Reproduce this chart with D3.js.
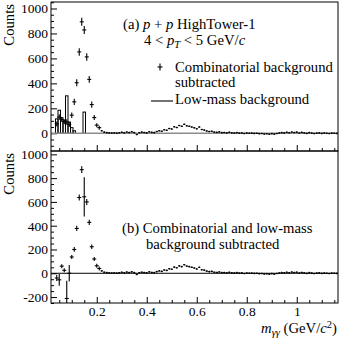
<!DOCTYPE html>
<html>
<head>
<meta charset="utf-8">
<script src="https://cdn.jsdelivr.net/npm/d3@7"></script>
<style>
  body { margin: 0; background: #fff; }
  text { font-family: "Liberation Serif", serif; fill: #000; }
</style>
</head>
<body>
<div id="chart"></div>
<script>
// bins of 0.01 GeV/c^2, first centre at 0.04
const binStart = 0.04;
const binWidth = 0.01;

// panel (a): combinatorial background subtracted, 0.04 .. 0.21
const peakA = [75, 130, 110, 92, 90, 70, 145, 252, 405, 652, 893, 828, 612, 432, 230, 126, 65, 45];
const peakErrA = [20, 22, 20, 20, 22, 20, 22, 25, 28, 30, 32, 32, 30, 28, 25, 20, 15, 12];

// panel (b): combinatorial and low-mass subtracted, 0.04 .. 0.21
const peakB = [-40, -55, 60, 25, -212, 0, 137, 200, 377, 637, 871, 643, 600, 428, 223, 120, 63, 40];
const peakErrB = [25, 50, 12, 15, 150, 70, 15, 20, 22, 25, 28, 165, 25, 22, 18, 15, 12, 10];

// 0.22 .. 1.16, same in both panels
const tail = [20, 9, 5, 3, 2, 3, 1, 4, 8, 3, 10, 6, 12, 5, -10, 4, 9, 6, 3, 12,
  7, 5, 14, 20, 16, 28, 24, 38, 34, 52, 46, 62, 56, 72, 60, 56, 50, 44, 36, 50,
  30, 26, 18, 14, 16, 9, 7, 11, 5, 6, 3, 8, 4, 2, 5, 1, 3, -2, 2, 0,
  1, -1, 0, -3, -2, -6, -4, -8, -3, -7, -2, 2, 5, 3, 8, 4, 10, 6, 9, 2,
  7, 3, -1, 5, 2, -2, 1, 3, -1, 2, 0, -2, 1, 0, -1];
const tailErr = 5;

// low-mass background histogram, 0.04 .. 0.15
const lowMass = [115, 185, 125, 100, 300, 90, 45, 20, 0, 0, 0, 170];

const yTicksA = [0, 200, 400, 600, 800, 1000];
const yTicksB = [-200, 0, 200, 400, 600, 800, 1000];
const xTicks = [0.2, 0.4, 0.6, 0.8, 1];

const seriesA = peakA.concat(tail).map((v, i) => ({
  m: binStart + i * binWidth, v: v, e: i < peakErrA.length ? peakErrA[i] : tailErr, big: i < peakErrA.length }));
const seriesB = peakB.concat(tail).map((v, i) => ({
  m: binStart + i * binWidth, v: v, e: i < peakErrB.length ? peakErrB[i] : tailErr, big: i < peakErrB.length }));
const lowMassBins = lowMass.map((v, i) => ({ m: binStart + i * binWidth, v: v }));

const svgWidth = 341, svgHeight = 339;
const left = 51, right = 338;

const svg = d3.select("#chart").append("svg")
  .attr("width", svgWidth)
  .attr("height", svgHeight);

const x = d3.scaleLinear().domain([0.017, 1.165]).range([left, right]);
const yA = d3.scaleLinear().domain([-142, 1052]).range([151, 2]);
const yB = d3.scaleLinear().domain([-250, 1028]).range([303, 151]);

function drawPanel(id, y, top, bottom, yTicks, series, showXLabels) {
  const clipId = "clip-" + id;
  svg.append("clipPath").attr("id", clipId)
    .append("rect")
    .attr("x", left).attr("y", top)
    .attr("width", right - left).attr("height", bottom - top);

  const g = svg.append("g");

  // y axis: ticks point inward
  const minorY = d3.range(Math.ceil(y.domain()[0] / 50) * 50, y.domain()[1], 50)
    .filter(v => yTicks.indexOf(v) < 0);
  g.append("g")
    .attr("transform", "translate(" + left + ",0)")
    .call(d3.axisLeft(y).tickValues(minorY).tickSizeInner(-3).tickSizeOuter(0).tickFormat(""))
    .call(a => a.select(".domain").remove());
  g.append("g")
    .attr("transform", "translate(" + left + ",0)")
    .call(d3.axisLeft(y).tickValues(yTicks).tickSizeInner(-6).tickSizeOuter(0)
      .tickPadding(3).tickFormat(d => String(d)))
    .call(a => a.select(".domain").remove())
    .call(a => a.selectAll("text").style("font-size", "13.5px").style("font-family", "Liberation Serif"));

  // x axis at the bottom of the panel
  const minorX = d3.range(0.05, 1.16, 0.05).filter(v => Math.abs(v * 5 - Math.round(v * 5)) > 1e-6);
  g.append("g")
    .attr("transform", "translate(0," + bottom + ")")
    .call(d3.axisBottom(x).tickValues(minorX).tickSizeInner(-3).tickSizeOuter(0).tickFormat(""))
    .call(a => a.select(".domain").remove());
  g.append("g")
    .attr("transform", "translate(0," + bottom + ")")
    .call(d3.axisBottom(x).tickValues(xTicks).tickSizeInner(-6).tickSizeOuter(0)
      .tickPadding(3).tickFormat(d => showXLabels ? String(+d.toFixed(1)) : ""))
    .call(a => a.select(".domain").remove())
    .call(a => a.selectAll("text").style("font-size", "13.5px").style("font-family", "Liberation Serif"));

  const plot = g.append("g").attr("clip-path", "url(#" + clipId + ")");

  // zero line
  plot.append("line")
    .attr("x1", left).attr("x2", right)
    .attr("y1", y(0)).attr("y2", y(0))
    .attr("stroke", id === "a" ? "#8c8c8c" : "#000")
    .attr("stroke-width", id === "a" ? 1.6 : 1);

  // data points with error bars
  const pts = plot.append("g").attr("stroke", "#000").attr("stroke-width", 1.1);
  pts.selectAll("line.ey")
    .data(series)
    .enter().append("line")
    .attr("class", "ey")
    .attr("x1", d => x(d.m)).attr("x2", d => x(d.m))
    .attr("y1", d => Math.min(y(d.v) - (d.big ? 2 : 0.8), y(d.v + d.e)))
    .attr("y2", d => Math.max(y(d.v) + (d.big ? 2 : 0.8), y(d.v - d.e)));
  pts.selectAll("line.ex")
    .data(series)
    .enter().append("line")
    .attr("class", "ex")
    .attr("x1", d => x(d.m) - (d.big ? 2 : 1.1)).attr("x2", d => x(d.m) + (d.big ? 2 : 1.1))
    .attr("y1", d => y(d.v)).attr("y2", d => y(d.v));

  // frame
  svg.append("rect")
    .attr("x", left).attr("y", top)
    .attr("width", right - left).attr("height", bottom - top)
    .attr("fill", "none").attr("stroke", "#000").attr("stroke-width", 1);

  // y label
  svg.append("text")
    .attr("transform", "translate(14," + (top + 2) + ") rotate(-90)")
    .attr("text-anchor", "end")
    .style("font-size", "14.7px")
    .text("Counts");

  return plot;
}

const plotA = drawPanel("a", yA, 2, 151, yTicksA, seriesA, false);
const plotB = drawPanel("b", yB, 151, 303, yTicksB, seriesB, true);

// low-mass background as outlined bars
plotA.insert("g", ":first-child")
  .selectAll("rect")
  .data(lowMassBins.filter(d => d.v > 0))
  .enter().append("rect")
  .attr("x", d => x(d.m - binWidth / 2))
  .attr("width", d => x(d.m + binWidth / 2) - x(d.m - binWidth / 2))
  .attr("y", d => yA(d.v))
  .attr("height", d => yA(0) - yA(d.v))
  .attr("fill", "none")
  .attr("stroke", "#000")
  .attr("stroke-width", 1);

// annotations, panel (a)
const fs = "14.7px";
const t1 = svg.append("text").attr("x", 123).attr("y", 29).style("font-size", fs);
t1.append("tspan").text("(a) ");
t1.append("tspan").style("font-style", "italic").text("p");
t1.append("tspan").text(" + ");
t1.append("tspan").style("font-style", "italic").text("p");
t1.append("tspan").text(" HighTower-1");

const t2 = svg.append("text").attr("x", 144).attr("y", 45).style("font-size", fs);
t2.append("tspan").text("4 < ");
t2.append("tspan").style("font-style", "italic").text("p");
t2.append("tspan").style("font-style", "italic").style("font-size", "10.5px").attr("dy", 3).text("T");
t2.append("tspan").attr("dy", -3).text(" < 5 GeV/");
t2.append("tspan").style("font-style", "italic").text("c");

// legend
svg.append("line").attr("x1", 157.5).attr("x2", 162.5).attr("y1", 67).attr("y2", 67)
  .attr("stroke", "#000").attr("stroke-width", 1.1);
svg.append("line").attr("x1", 160).attr("x2", 160).attr("y1", 63.5).attr("y2", 70.5)
  .attr("stroke", "#000").attr("stroke-width", 1.1);
svg.append("text").attr("x", 175).attr("y", 72).style("font-size", fs).text("Combinatorial background");
svg.append("text").attr("x", 175).attr("y", 87).style("font-size", fs).text("subtracted");
svg.append("line").attr("x1", 151).attr("x2", 173).attr("y1", 101).attr("y2", 101)
  .attr("stroke", "#000").attr("stroke-width", 1.1);
svg.append("text").attr("x", 175).attr("y", 104).style("font-size", fs).text("Low-mass background");

// annotations, panel (b)
svg.append("text").attr("x", 122).attr("y", 233).style("font-size", fs).text("(b) Combinatorial and low-mass");
svg.append("text").attr("x", 146).attr("y", 249).style("font-size", fs).text("background subtracted");

// x axis title
const xt = svg.append("text").attr("x", 337).attr("y", 333).attr("text-anchor", "end").style("font-size", fs);
xt.append("tspan").style("font-style", "italic").text("m");
xt.append("tspan").style("font-style", "italic").style("font-size", "10.5px").attr("dy", 3).text("γγ");
xt.append("tspan").attr("dy", -3).text(" (GeV/");
xt.append("tspan").style("font-style", "italic").text("c");
xt.append("tspan").style("font-size", "10.5px").attr("dy", -5).text("2");
xt.append("tspan").attr("dy", 5).text(")");
</script>
</body>
</html>
